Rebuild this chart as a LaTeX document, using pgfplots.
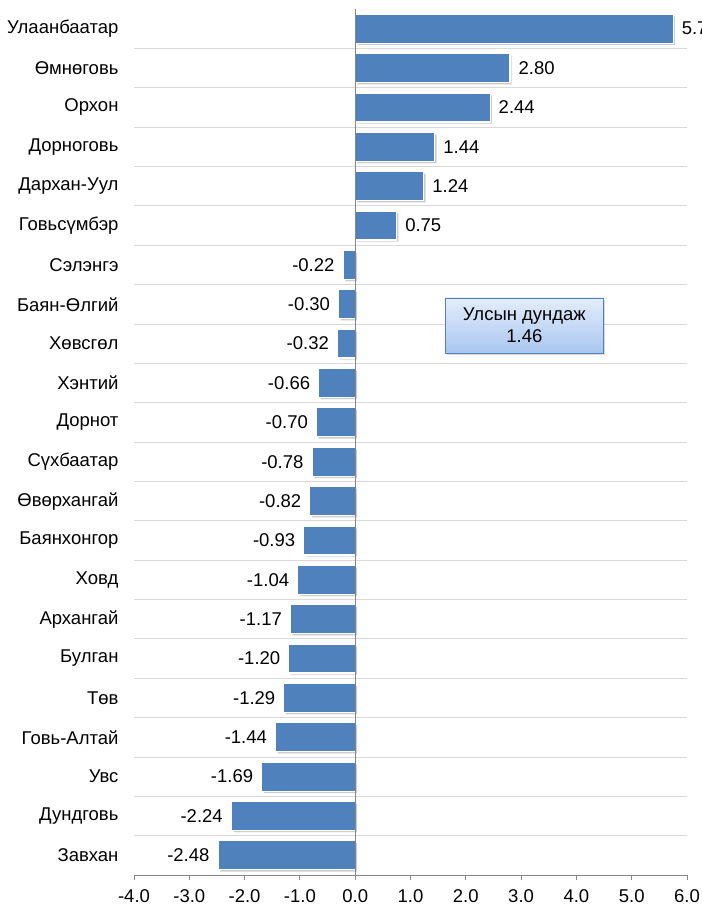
\documentclass[border=0pt]{standalone}
\usepackage{fontspec}
\setmainfont{Liberation Sans}
\usepackage{pgfplots}
\pgfplotsset{compat=1.18}
\usetikzlibrary{shadows}
\definecolor{barBlue}{HTML}{4F81BD}
\definecolor{gridGray}{HTML}{D9D9D9}
\definecolor{axisGray}{HTML}{868686}
\definecolor{boxTop}{HTML}{E3EDFB}
\definecolor{boxBot}{HTML}{A9C6F0}
\begin{document}
\begin{tikzpicture}[font=\fontsize{18.5}{22}\selectfont]
\useasboundingbox (-134pt,-31pt) rectangle (568pt,875pt);
\clip (-134pt,-31pt) rectangle (568pt,875pt);
\begin{axis}[
    scale only axis,
    width=553pt, height=866pt,
    xbar, bar width=29pt,
    xmin=-4, xmax=6,
    ymin=-0.5, ymax=21.5,
    y dir=reverse,
    xtick={-4,-3,...,6},
    ytick={0,1,...,21},
    yticklabels={Улаанбаатар, Өмнөговь, Орхон, Дорноговь, Дархан-Уул, Говьсүмбэр,
        Сэлэнгэ, Баян-Өлгий, Хөвсгөл, Хэнтий, Дорнот, Сүхбаатар, Өвөрхангай,
        Баянхонгор, Ховд, Архангай, Булган, Төв, Говь-Алтай, Увс, Дундговь, Завхан},
    minor ytick={0.5,1.5,...,20.5},
    yminorgrids=true,
    minor grid style={gridGray, line width=0.8pt},
    minor tick length=0pt,
    axis x line*=bottom,
    axis y line*=left,
    y axis line style={draw=none},
    x axis line style={axisGray, line width=0.8pt},
    tick align=outside,
    major tick length=5pt,
    xtick style={axisGray, line width=0.8pt},
    ytick style={draw=none},
    x tick label style={/pgf/number format/.cd, fixed, fixed zerofill, precision=1,
        assume math mode=true, /tikz/.cd, black, yshift=-6pt},
    y tick label style={black, xshift=-7pt},
    nodes near coords,
    nodes near coords align={horizontal},
    every node near coord/.append style={black, inner xsep=8pt,
        /pgf/number format/.cd, fixed, fixed zerofill, precision=2,
        assume math mode=true, /tikz/.cd},
]
\addplot[fill=barBlue, draw=white, line width=1.2pt,
    drop shadow={shadow xshift=2pt, shadow yshift=-2pt, opacity=0.4}]
    coordinates {
    (5.75,0) (2.80,1) (2.44,2) (1.44,3) (1.24,4) (0.75,5)
    (-0.22,6) (-0.30,7) (-0.32,8) (-0.66,9) (-0.70,10) (-0.78,11)
    (-0.82,12) (-0.93,13) (-1.04,14) (-1.17,15) (-1.20,16) (-1.29,17)
    (-1.44,18) (-1.69,19) (-2.24,20) (-2.48,21)
};
\draw[axisGray, line width=0.8pt] (axis cs:0,-0.5) -- (axis cs:0,21.5);
\node[draw=barBlue, line width=0.8pt, top color=boxTop, bottom color=boxBot,
    minimum width=158pt, minimum height=55pt, align=center,
    drop shadow={shadow xshift=2pt, shadow yshift=-2pt, opacity=0.3}]
    at (axis cs:3.06,7.54) {Улсын дундаж\\1.46};
\end{axis}
\end{tikzpicture}
\end{document}
